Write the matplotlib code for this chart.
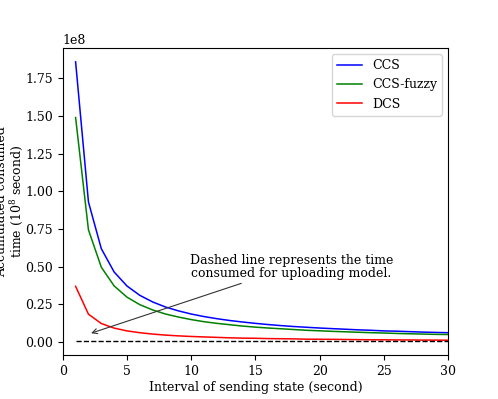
import numpy as np
import matplotlib
matplotlib.use('Agg')
import matplotlib.pyplot as plt

plt.rcParams['font.family'] = 'DejaVu Serif'
plt.rcParams['mathtext.fontset'] = 'dejavuserif'

# interval of sending state (seconds)
intervals = list(range(1, 31))

# accumulated consumed time, in units of 1e8 seconds
ccs = [1.86, 0.93, 0.62, 0.465, 0.372, 0.31, 0.266, 0.2325, 0.207, 0.186,
       0.169, 0.155, 0.143, 0.133, 0.124, 0.116, 0.109, 0.103, 0.098, 0.093,
       0.089, 0.085, 0.081, 0.078, 0.074, 0.072, 0.069, 0.066, 0.064, 0.062]
ccs_fuzzy = [1.49, 0.745, 0.497, 0.3725, 0.298, 0.248, 0.213, 0.186, 0.166, 0.149,
             0.135, 0.124, 0.115, 0.106, 0.099, 0.093, 0.088, 0.083, 0.078, 0.0745,
             0.071, 0.068, 0.065, 0.062, 0.060, 0.057, 0.055, 0.053, 0.051, 0.050]
dcs = [0.37, 0.185, 0.123, 0.0925, 0.074, 0.062, 0.053, 0.046, 0.041, 0.037,
       0.034, 0.031, 0.028, 0.026, 0.025, 0.023, 0.022, 0.021, 0.019, 0.0185,
       0.018, 0.017, 0.016, 0.015, 0.015, 0.014, 0.014, 0.013, 0.013, 0.012]
upload_time = 0.006

scale = 1e8

fig = plt.figure(figsize=(4.98, 3.99), dpi=100)
ax = fig.add_axes([0.126, 0.11, 0.774, 0.77])

ax.plot(intervals, np.array(ccs) * scale, color='b', lw=1.1, label='CCS')
ax.plot(intervals, np.array(ccs_fuzzy) * scale, color='g', lw=1.1, label='CCS-fuzzy')
ax.plot(intervals, np.array(dcs) * scale, color='r', lw=1.1, label='DCS')
ax.plot(intervals, [upload_time * scale] * len(intervals), 'k--', lw=1)

ax.annotate('Dashed line represents the time\nconsumed for uploading model.',
            xy=(2, 0.053 * scale), xytext=(17.8, 0.5 * scale),
            ha='center', va='center', fontsize=9, linespacing=1.0,
            arrowprops=dict(arrowstyle='->', color='#333333', lw=0.8))

ax.set_xlim(0, 30)
ax.set_xlabel('Interval of sending state (second)', fontsize=9, labelpad=2)
ax.set_ylabel('Accumulated consumed\ntime ($10^8$ second)', fontsize=9,
              linespacing=1.0)
ax.yaxis.set_label_coords(-0.097, 0.5)
ax.tick_params(labelsize=9)
ax.yaxis.get_offset_text().set_fontsize(9)
ax.legend(loc='upper right', fontsize=9)

plt.savefig('out.png', dpi=100)
